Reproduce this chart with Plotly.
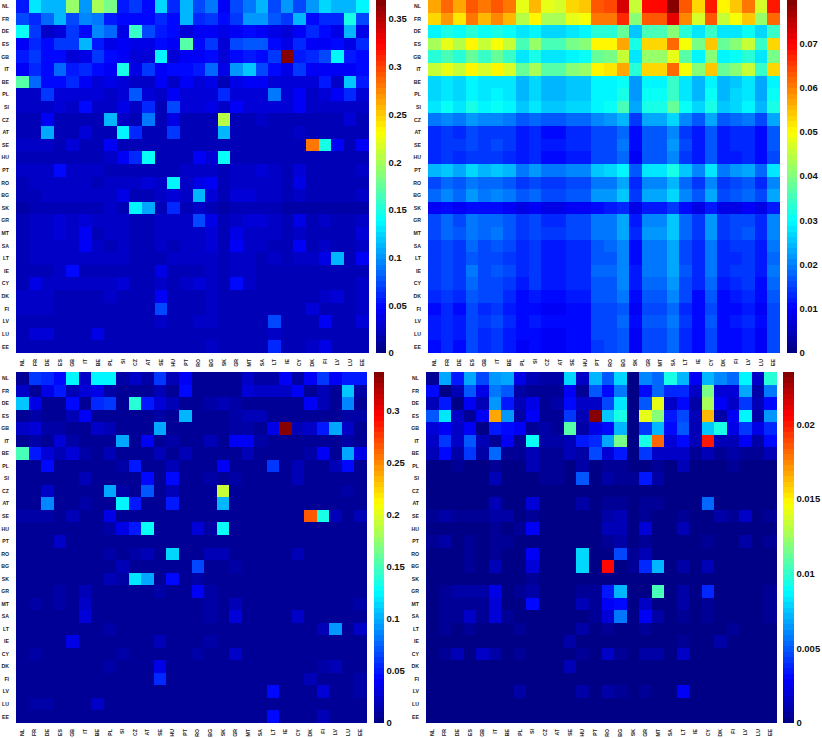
import plotly.graph_objects as go

W, H = 822, 738
labels = ["NL","FR","DE","ES","GB","IT","BE","PL","SI","CZ","AT","SE","HU","PT","RO","BG","SK","GR","MT","SA","LT","IE","CY","DK","FI","LV","LU","EE"]

# top-left panel, values in thousandths
tl = [
[55,130,115,115,195,100,200,180,55,65,50,125,58,115,75,90,46,72,90,110,72,100,72,100,125,110,115,133],
[72,58,82,110,72,95,90,55,50,48,48,58,52,110,62,68,50,65,100,100,80,65,110,48,62,62,145,72],
[140,68,28,34,68,48,95,85,40,160,72,55,48,34,44,45,38,44,48,46,38,30,44,60,48,40,110,38],
[46,60,50,65,65,110,55,38,44,40,40,52,44,170,52,68,30,70,80,80,50,38,58,44,44,50,40,60],
[55,65,50,48,32,38,65,52,44,34,34,138,34,44,44,48,32,50,55,52,65,370,55,58,75,138,55,48],
[44,60,50,85,55,58,52,42,145,38,65,44,52,52,55,85,38,100,118,72,48,40,68,46,46,46,44,50],
[170,85,52,52,58,44,32,40,32,28,28,44,25,44,34,35,22,38,44,42,34,32,34,32,55,28,118,55],
[24,24,65,30,30,30,30,26,34,80,30,26,44,30,30,32,58,34,34,34,92,32,46,28,30,42,58,30],
[26,26,26,32,26,48,26,26,38,24,62,22,70,32,34,38,28,46,34,32,30,30,46,26,26,26,24,24],
[20,20,44,22,22,22,22,112,28,18,92,20,36,22,22,22,205,22,22,24,22,20,22,20,20,20,30,20],
[20,22,105,22,18,30,20,22,138,60,20,20,65,20,20,20,112,20,22,22,20,20,26,20,20,20,20,20],
[26,26,26,22,34,22,22,44,20,20,20,20,20,20,20,20,18,22,22,22,22,20,22,280,148,44,22,42],
[20,20,20,20,20,20,20,26,44,60,140,20,20,20,44,30,140,22,22,22,18,18,20,18,18,18,18,18],
[24,26,24,50,24,24,24,22,22,22,22,22,22,24,24,26,20,26,28,32,24,22,30,22,22,22,22,26],
[22,24,24,24,24,28,22,28,26,24,30,24,135,24,36,44,22,26,26,24,24,22,40,22,22,22,22,22],
[22,22,24,26,26,28,24,24,40,22,22,24,32,24,115,30,20,34,32,26,24,22,28,22,22,22,22,26],
[16,18,18,18,18,18,18,26,20,135,105,18,60,20,26,22,16,20,18,18,18,16,16,16,16,14,14,16],
[22,26,24,34,24,34,24,24,24,22,22,26,24,26,70,40,20,28,32,30,24,22,36,22,24,22,22,26],
[22,28,24,34,24,44,22,24,28,22,22,26,24,26,26,34,20,36,26,26,24,22,26,22,22,22,22,34],
[22,26,26,28,24,46,24,22,26,22,22,24,22,24,24,34,20,44,26,24,22,22,42,22,24,22,22,24],
[22,24,24,24,24,24,24,28,24,22,22,22,24,24,24,28,22,26,24,22,28,22,24,24,38,110,22,46],
[22,22,22,26,48,22,22,22,22,22,22,36,22,22,22,26,20,26,24,22,22,20,22,22,22,22,20,22],
[22,36,24,24,24,24,24,24,30,22,22,24,22,28,30,28,20,48,24,22,22,22,22,20,22,22,20,24],
[24,24,24,22,22,22,22,26,22,20,20,46,20,22,22,24,20,22,22,22,22,20,22,20,26,30,18,26],
[24,26,24,22,22,22,22,22,22,20,20,75,20,22,22,24,18,22,22,22,22,20,22,32,20,22,18,26],
[22,22,22,22,22,22,22,22,22,20,20,24,20,22,24,26,18,22,22,22,72,20,22,20,46,22,18,30],
[20,34,32,22,22,22,38,22,22,20,20,22,20,22,22,22,18,22,22,22,24,20,22,20,22,20,18,22],
[20,22,22,20,20,20,20,20,20,18,18,20,20,20,22,24,18,22,22,20,60,18,20,24,36,20,18,20],
]

# top-right panel, values in units of 0.0001
tr = [
[570,615,570,630,600,625,600,480,550,475,470,530,540,625,640,730,460,690,690,798,630,530,685,500,540,600,465,680],
[530,575,515,605,550,590,550,440,505,435,435,480,495,600,605,670,410,630,630,720,590,470,630,455,490,545,420,620],
[295,320,300,330,310,322,308,275,295,270,268,285,290,330,332,375,260,350,350,410,325,285,345,277,285,305,265,340],
[435,475,440,505,460,495,450,355,415,350,350,390,400,500,510,570,320,530,530,615,490,395,545,375,405,455,340,525],
[332,360,325,385,345,375,345,285,315,280,280,295,305,380,390,450,275,415,415,480,365,295,405,292,300,330,278,395],
[450,485,450,505,465,500,465,380,425,365,365,405,415,500,515,570,335,535,535,620,495,405,540,380,410,455,340,530],
[270,280,265,290,278,285,275,240,265,240,240,255,258,288,292,310,222,298,298,345,282,240,298,240,260,275,228,298],
[272,282,266,292,280,287,277,242,266,240,240,256,258,290,295,312,224,300,300,348,284,242,300,242,262,277,230,300],
[285,300,283,312,292,302,292,255,280,250,250,268,268,298,303,355,235,320,320,378,300,262,320,255,272,292,240,312],
[188,200,190,212,202,205,195,170,182,166,166,178,180,210,212,240,148,225,225,265,202,172,228,165,178,190,155,225],
[130,142,135,150,142,146,138,120,130,112,112,125,125,158,160,186,100,168,168,210,148,122,170,118,125,132,108,165],
[132,146,138,154,146,150,140,122,132,114,114,126,126,160,162,188,102,170,170,212,150,124,172,120,126,134,110,168],
[128,140,132,148,140,144,134,116,128,110,110,122,122,155,158,182,98,165,165,205,145,120,166,116,122,130,106,162],
[240,252,228,262,245,258,240,195,218,190,190,205,208,258,268,298,170,280,280,312,250,200,282,196,215,228,178,278],
[162,178,165,190,178,182,170,148,162,140,140,150,152,190,192,225,125,205,205,248,178,145,205,140,152,165,132,200],
[180,200,185,215,198,208,188,165,182,158,158,170,172,215,218,250,140,232,232,272,200,165,232,160,172,185,150,230],
[96,104,96,108,102,104,98,86,92,80,80,88,88,112,114,130,76,120,120,146,106,84,118,84,86,92,78,116],
[158,175,162,192,175,182,168,142,160,135,135,150,150,190,192,225,122,210,210,250,178,145,212,138,150,160,128,202],
[160,178,165,195,178,188,170,145,160,138,138,150,152,192,195,228,125,212,212,252,180,148,212,140,152,165,130,205],
[142,160,148,175,158,165,150,130,145,122,122,135,136,172,175,208,112,190,190,232,162,132,192,128,138,145,118,188],
[138,158,146,172,155,162,148,128,142,120,120,132,134,170,172,205,110,188,188,228,160,130,190,125,135,142,115,185],
[140,162,148,195,160,168,152,130,145,122,122,135,136,175,178,210,115,195,195,232,165,132,195,128,138,148,118,190],
[138,155,142,186,150,160,145,122,138,115,115,128,130,165,168,200,115,182,182,218,155,125,185,122,130,138,112,186],
[130,140,128,170,150,158,135,108,122,100,100,115,115,165,168,192,108,170,170,210,150,112,172,112,122,132,104,170],
[112,125,112,155,132,142,120,100,110,96,96,104,104,150,152,170,96,155,155,186,130,100,158,100,110,118,96,155],
[122,132,120,162,140,150,128,106,116,100,100,110,110,155,160,180,102,166,166,194,140,106,166,108,118,128,100,162],
[115,128,114,155,134,142,120,100,110,96,96,104,104,150,152,166,98,155,155,182,132,102,158,102,112,120,98,155],
[112,125,112,152,130,140,118,98,108,94,94,102,102,148,150,165,96,152,152,180,128,100,155,100,108,118,96,152],
]

# bottom-left panel, values in thousandths
bl = [
[8,58,55,45,122,25,125,125,12,22,12,58,18,42,8,8,8,8,22,15,15,42,15,42,60,42,52,52],
[22,6,32,48,20,28,32,14,8,10,10,20,8,46,8,8,8,8,30,22,22,22,38,10,16,10,110,12],
[110,35,6,8,45,10,56,58,10,140,48,30,18,8,8,12,20,14,8,8,10,10,10,38,16,10,85,10],
[8,14,10,8,18,42,8,8,8,8,8,14,8,105,8,10,8,12,16,16,8,8,8,10,8,10,12,12],
[24,28,14,14,6,8,26,16,10,8,8,100,8,8,8,8,8,12,14,8,32,337,16,26,48,95,24,10],
[8,14,10,28,12,8,10,8,95,8,38,8,12,10,8,16,8,42,42,14,8,8,8,10,8,8,12,8],
[150,52,28,18,30,14,8,20,8,8,10,20,8,16,8,10,8,8,18,10,8,8,8,14,42,8,100,34],
[6,6,44,6,6,6,6,6,12,52,8,6,20,6,6,6,42,6,8,6,60,6,18,6,8,20,46,8],
[6,6,6,8,6,18,6,6,6,6,44,6,46,6,8,12,10,14,6,6,6,6,16,6,6,6,6,6],
[6,6,26,6,6,6,6,100,14,6,72,6,18,6,6,6,190,6,6,6,6,6,6,6,6,6,14,6],
[6,6,85,6,6,14,6,10,125,50,6,6,50,6,8,6,105,6,6,6,6,6,6,6,6,6,6,6],
[14,12,14,6,18,6,6,32,6,6,6,6,6,6,6,6,6,6,6,6,6,6,6,265,135,20,6,20],
[6,6,8,6,6,6,6,14,36,50,128,6,6,6,30,12,130,6,6,6,6,6,6,6,6,6,8,6],
[6,6,6,26,6,6,6,8,6,6,6,6,6,6,6,6,6,6,6,6,6,6,6,6,6,6,6,6],
[6,6,6,6,6,6,6,14,6,12,16,6,115,6,6,16,16,6,6,6,6,6,18,6,6,6,6,6],
[6,6,6,6,6,6,6,8,20,6,10,6,10,6,68,6,6,14,6,6,6,6,6,6,6,6,6,6],
[6,6,8,6,8,6,6,18,12,120,100,6,44,6,12,6,10,6,6,6,6,6,6,6,6,6,6,6],
[6,6,6,14,6,16,6,6,6,6,6,12,6,6,42,14,6,6,6,10,6,6,10,8,6,6,6,6],
[6,12,6,14,6,26,6,6,6,6,6,10,6,6,6,12,6,20,6,6,6,6,6,6,6,6,6,14],
[6,10,6,6,6,30,6,6,6,6,6,6,6,6,6,12,6,28,10,6,6,6,24,6,6,6,6,6],
[6,6,6,6,6,6,6,12,6,6,6,6,6,6,6,6,6,6,6,6,6,6,6,6,20,90,6,26],
[6,8,6,6,32,6,6,6,6,6,6,18,6,6,6,12,6,10,6,6,6,6,6,6,6,6,6,6],
[6,14,6,6,6,6,6,6,12,6,6,6,6,10,12,6,6,26,6,6,6,6,6,6,6,6,6,6],
[10,8,10,6,6,6,6,12,6,6,6,36,6,6,6,6,6,6,6,6,6,6,6,6,12,16,6,10],
[10,10,10,6,6,6,6,6,6,6,6,56,6,6,6,6,6,6,6,6,10,6,6,20,6,6,6,14],
[6,6,6,6,6,6,6,6,6,6,6,6,6,6,6,6,6,6,6,6,46,6,6,6,30,6,6,12],
[6,14,12,6,6,6,22,6,6,6,6,6,6,6,6,6,6,6,6,6,6,6,6,6,6,6,6,6],
[6,6,6,6,6,6,6,6,6,6,6,6,6,6,6,6,6,6,6,6,44,6,6,10,16,6,6,6],
]

# bottom-right panel, values in units of 0.0001
br = [
[4,68,35,68,45,64,68,24,12,10,8,80,18,72,48,78,2,62,55,94,70,28,70,62,52,88,18,96],
[30,2,14,48,24,58,48,10,6,6,6,28,6,48,32,56,2,32,55,40,38,16,115,20,20,68,10,58],
[14,36,2,28,14,66,34,12,24,6,8,32,18,18,45,84,2,50,142,18,30,10,128,26,16,42,12,30],
[48,84,16,4,28,168,64,10,28,6,6,42,14,235,76,94,2,140,118,36,45,14,165,10,28,88,8,66],
[22,28,16,28,2,34,30,28,5,8,5,108,10,24,32,72,2,44,72,30,50,14,76,94,25,42,24,38],
[16,42,16,50,12,4,28,6,90,8,8,14,34,38,68,116,2,94,182,22,32,14,200,12,14,28,8,30],
[12,30,10,42,10,54,4,6,14,6,6,12,8,46,20,34,2,42,18,16,18,6,12,6,10,6,6,12],
[2,2,6,3,3,5,3,2,14,4,4,3,10,2,6,4,2,3,4,3,12,2,2,2,6,2,2,2],
[2,2,2,2,2,12,2,2,2,6,6,2,50,2,10,6,4,36,8,2,2,2,2,2,2,2,2,2],
[1,1,2,2,1,2,1,1,2,1,1,1,2,1,1,2,1,1,1,1,1,1,2,1,1,1,1,1],
[2,2,3,3,2,12,2,2,20,2,2,2,8,2,5,6,2,5,5,2,2,2,55,2,2,2,2,2],
[5,8,7,6,6,8,10,3,4,2,2,2,3,3,8,14,2,6,3,3,6,2,2,11,4,18,3,6],
[3,3,3,2,3,4,2,7,28,2,2,2,2,2,12,12,2,20,2,2,12,2,2,2,2,3,2,2],
[4,10,3,7,3,7,7,2,2,2,2,2,2,2,7,9,2,6,3,2,2,2,4,2,2,8,2,6],
[2,2,3,4,2,6,2,3,26,2,2,2,78,2,2,46,6,12,2,2,2,2,2,2,2,3,2,2],
[2,2,3,6,2,14,2,3,20,3,3,2,78,2,205,2,6,38,72,2,10,2,12,2,2,2,2,2],
[1,1,1,1,1,1,1,1,4,1,1,1,3,1,1,1,1,1,1,1,1,1,1,1,1,1,1,1],
[3,6,9,9,8,25,3,4,10,2,2,2,7,4,35,70,2,2,105,3,10,2,40,2,2,3,2,4],
[3,4,7,7,7,22,3,3,30,2,2,2,12,4,26,32,2,18,2,3,8,2,6,3,2,3,2,4],
[3,5,6,16,6,20,4,2,3,2,2,2,2,7,22,56,2,28,9,2,4,2,6,2,2,3,2,4],
[2,6,3,6,2,2,2,7,2,2,2,2,8,3,6,3,2,5,2,2,2,2,2,2,4,2,2,2],
[2,2,2,2,2,2,2,3,2,2,2,9,3,2,2,2,2,2,2,2,6,2,2,10,2,2,2,2],
[2,4,14,2,16,8,2,5,2,3,3,2,6,2,18,6,2,9,9,2,18,2,2,2,2,2,2,2],
[2,2,2,2,2,2,2,3,2,2,2,12,2,2,2,2,2,2,2,2,2,2,2,2,3,2,2,2],
[1,1,3,1,1,1,1,2,1,1,1,3,1,2,1,2,1,1,1,1,2,1,1,2,1,1,1,1],
[2,2,3,2,2,2,2,9,2,2,2,2,8,2,8,5,2,5,2,2,26,2,2,2,3,2,2,2],
[1,1,1,1,1,1,1,1,1,1,1,1,1,1,1,1,1,1,1,1,1,1,1,1,1,1,1,1],
[1,1,1,1,1,1,1,1,1,1,1,1,1,1,1,1,1,1,1,1,1,1,1,1,1,1,1,1],
]

def jet_level(t):
    def ramp(c):
        return max(0.0, min(1.0, 1.5 - abs(4 * t - c)))
    return "rgb(%d,%d,%d)" % (255 * ramp(3), 255 * ramp(2), 255 * ramp(1))

N = 64
jet = []
for i in range(N):
    col = jet_level((i + 0.5) / N)
    jet.append([i / N, col])
    jet.append([(i + 1) / N, col])

# box in px: left, right, top, bottom; colorbar left and right
panels = [
    (tl, 0.001, 0.37, [0,0.05,0.1,0.15,0.2,0.25,0.3,0.35], ["0","0.05","0.1","0.15","0.2","0.25","0.3","0.35"], (16,369,0,353), (376,386)),
    (tr, 0.0001, 0.0798, [0,0.01,0.02,0.03,0.04,0.05,0.06,0.07], ["0","0.01","0.02","0.03","0.04","0.05","0.06","0.07"], (428,780,0,353), (787,797)),
    (bl, 0.001, 0.337, [0,0.05,0.1,0.15,0.2,0.25,0.3], ["0","0.05","0.1","0.15","0.2","0.25","0.3"], (16,367,372,723), (374,384)),
    (br, 0.0001, 0.0235, [0,0.005,0.01,0.015,0.02], ["0","0.005","0.01","0.015","0.02"], (426,777,372,723), (783,794)),
]

fig = go.Figure()
small = dict(family="Liberation Sans", size=5.2, color="#222222", weight=700)
for k, (rows, unit, zmax, tv, tt, box, cb) in enumerate(panels):
    l, r, t, b = box
    sfx = "" if k == 0 else str(k + 1)
    fig.add_trace(go.Heatmap(
        z=[[v * unit for v in row] for row in rows], x=labels, y=labels,
        zmin=0, zmax=zmax, colorscale=jet, xaxis="x" + sfx, yaxis="y" + sfx, hoverongaps=False,
        colorbar=dict(x=cb[0] / W, xanchor="left", xref="paper", y=1 - t / H, yanchor="top", yref="paper",
                      len=(b - t) / H, lenmode="fraction", thickness=cb[1] - cb[0], thicknessmode="pixels",
                      outlinewidth=0, borderwidth=0, xpad=0, ypad=0, ticks="", tickvals=tv, ticktext=tt,
                      ticklabelposition="outside",
                      tickfont=dict(family="Liberation Sans", size=9.5, color="#111111", weight=700)),
    ))
    fig.update_layout(**{
        "xaxis" + sfx: dict(domain=[l / W, r / W], anchor="y" + sfx, tickangle=-90, tickfont=small, ticks="",
                            showgrid=False, zeroline=False, showline=False, tickmode="array", tickvals=labels,
                            ticktext=labels, ticklabelstandoff=4, constrain="domain"),
        "yaxis" + sfx: dict(domain=[1 - b / H, 1 - t / H], anchor="x" + sfx, autorange="reversed", tickfont=small, ticks="",
                            showgrid=False, zeroline=False, showline=False, tickmode="array", tickvals=labels,
                            ticktext=labels, ticklabelstandoff=6),
    })

fig.update_layout(width=W, height=H, margin=dict(l=0, r=0, t=0, b=0), paper_bgcolor="white", plot_bgcolor="white")
fig.write_html("out.html", post_script="document.body.style.margin='0';", config={"displayModeBar": False})
